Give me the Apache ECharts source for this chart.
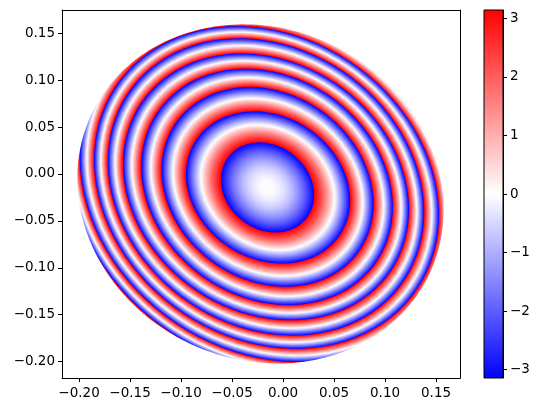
<!DOCTYPE html>
<html><head><meta charset="utf-8">
<style>html,body{margin:0;padding:0;background:#fff}#c{width:542px;height:413px}</style>
<script src="https://cdn.jsdelivr.net/npm/echarts@6/dist/echarts.min.js"></script>
</head><body><div id="c"></div>
<script>
// Phase-wrap contours (data units)
const ringCentreX = [-0.0152,-0.0147,-0.0152,-0.0157,-0.0167,-0.0167,-0.0162,-0.0162,-0.0162,-0.0162,-0.0162];
const ringCentreY = [-0.0144,-0.0144,-0.0138,-0.0138,-0.0138,-0.0138,-0.0144,-0.0144,-0.0144,-0.0144,-0.0144];
const ringSemiX   = [0.0451,0.0794,0.1025,0.1216,0.1382,0.1529,0.1667,0.1804,0.1922,0.2078,0.2216];
const ringSemiY   = [0.0474,0.0800,0.1050,0.1242,0.1402,0.1562,0.1695,0.1834,0.1952,0.2111,0.2249];
const ringTilt = 0.17;
// aperture outline: centre x, centre y, semi x, semi y, tilt
const aperture = [-0.0221, -0.0213, 0.1788, 0.1800, 0.093];
const xTicks = [-0.20,-0.15,-0.10,-0.05,0,0.05,0.10,0.15];
const yTicks = [-0.20,-0.15,-0.10,-0.05,0,0.05,0.10,0.15];
const barTicks = [-3,-2,-1,0,1,2,3];
const xRange = [-0.2167,0.1735];
const yRange = [-0.2175,0.1748];
const phaseRange = [-Math.PI,Math.PI];
const shadesPerFringe = 28;

function phaseColor(p){
  const t = Math.min(1,Math.abs(p)/Math.PI), v = Math.round(255*(1-t));
  return p<0 ? `rgb(${v},${v},255)` : `rgb(255,${v},${v})`;
}
// bands painted outermost first: [centreX, centreY, semiX, semiY, phase]
const bands = [];
for(let k=ringSemiX.length-1;k>=0;k--){
  for(let j=shadesPerFringe;j>=1;j--){
    const t=j/shadesPerFringe;
    const a0=k?ringSemiX[k-1]:0,b0=k?ringSemiY[k-1]:0;
    const cx0=k?ringCentreX[k-1]:ringCentreX[0],cy0=k?ringCentreY[k-1]:ringCentreY[0];
    const a=Math.sqrt(a0*a0+(ringSemiX[k]**2-a0*a0)*t);
    const b=Math.sqrt(b0*b0+(ringSemiY[k]**2-b0*b0)*t);
    const phase=k?Math.PI-2*Math.PI*(t-0.5/shadesPerFringe):-Math.PI*(t-0.5/shadesPerFringe);
    bands.push([cx0+(ringCentreX[k]-cx0)*t,cy0+(ringCentreY[k]-cy0)*t,a,b,phase]);
  }
}
const fmt2=v=>v.toFixed(2).replace('-','\u2212');
const fmt0=v=>String(v).replace('-','\u2212');
const font={color:'#000',fontFamily:'DejaVu Sans',fontSize:13.5};
const line={show:true,onZero:false,lineStyle:{color:'#000',width:1}};
const tick=(vals)=>({show:true,length:4,customValues:vals,lineStyle:{color:'#000',width:1}});

function tiltedPoint(api,cx,cy,a,b,tilt,q){
  const p=Math.cos(q)/Math.sqrt(1+tilt),s=Math.sin(q)/Math.sqrt(1-tilt);
  const u=(p-s)/Math.SQRT2,v=(p+s)/Math.SQRT2;
  return api.coord([cx+a*u,cy+b*v]);
}
function renderBand(params,api){
  const cx=api.value(0),cy=api.value(1),a=api.value(2),b=api.value(3),ph=api.value(4);
  const pts=[];
  for(let i=0;i<96;i++) pts.push(tiltedPoint(api,cx,cy,a,b,ringTilt,i/96*2*Math.PI));
  return {type:'polygon',shape:{points:pts},style:{fill:phaseColor(ph),stroke:null},silent:true};
}
// white surround outside the aperture
function renderMask(params,api){
  const tl=api.coord([xRange[0],yRange[1]]),br=api.coord([xRange[1],yRange[0]]);
  let d=`M${tl[0]} ${tl[1]}L${br[0]} ${tl[1]}L${br[0]} ${br[1]}L${tl[0]} ${br[1]}Z`;
  for(let i=0;i<240;i++){
    const c=tiltedPoint(api,api.value(0),api.value(1),api.value(2),api.value(3),api.value(4),i/240*2*Math.PI);
    d+=(i?'L':'M')+c[0].toFixed(2)+' '+c[1].toFixed(2);
  }
  d+='Z';
  return {type:'path',shape:{pathData:d},style:{fill:'#fff',stroke:null},silent:true};
}
function renderBar(params,api){
  const p0=api.coord([0,phaseRange[1]]),p1=api.coord([1,phaseRange[0]]);
  return {type:'rect',shape:{x:p0[0],y:p0[1],width:p1[0]-p0[0],height:p1[1]-p0[1]},
    style:{stroke:'#000',lineWidth:1,fill:new echarts.graphic.LinearGradient(0,0,0,1,[
      {offset:0,color:'#ff0000'},{offset:0.5,color:'#ffffff'},{offset:1,color:'#0000ff'}])},silent:true};
}
const chart=echarts.init(document.getElementById('c'),null,{renderer:'canvas'});
const plainFrame={z:10,splitLine:{show:false},axisTick:{show:false},axisLabel:{show:false},axisLine:line};
chart.setOption({
  animation:false,backgroundColor:'#fff',
  grid:[
    {left:62,top:10,width:398,height:368,show:false},
    {left:484,top:10,width:19,height:368,show:false}
  ],
  xAxis:[
    {gridIndex:0,z:10,type:'value',min:xRange[0],max:xRange[1],splitLine:{show:false},axisLine:line,
     axisTick:tick(xTicks),axisLabel:{...font,customValues:xTicks,formatter:fmt2,margin:8}},
    {gridIndex:1,type:'value',min:0,max:1,show:false},
    {gridIndex:0,type:'value',position:'top',min:xRange[0],max:xRange[1],...plainFrame}
  ],
  yAxis:[
    {gridIndex:0,z:10,type:'value',min:yRange[0],max:yRange[1],splitLine:{show:false},axisLine:line,
     axisTick:tick(yTicks),axisLabel:{...font,customValues:yTicks,formatter:fmt2,margin:7}},
    {gridIndex:1,z:10,type:'value',position:'right',min:phaseRange[0],max:phaseRange[1],splitLine:{show:false},axisLine:line,
     axisTick:tick(barTicks),axisLabel:{...font,customValues:barTicks,formatter:fmt0,margin:7}},
    {gridIndex:0,type:'value',position:'right',min:yRange[0],max:yRange[1],...plainFrame}
  ],
  series:[
    {type:'custom',xAxisIndex:0,yAxisIndex:0,data:bands,renderItem:renderBand,clip:true,progressive:0,silent:true,z:1},
    {type:'custom',xAxisIndex:0,yAxisIndex:0,data:[aperture],renderItem:renderMask,progressive:0,silent:true,z:2},
    {type:'custom',xAxisIndex:1,yAxisIndex:1,data:[[0,0]],renderItem:renderBar,progressive:0,silent:true,z:1}
  ]
});
</script></body></html>
